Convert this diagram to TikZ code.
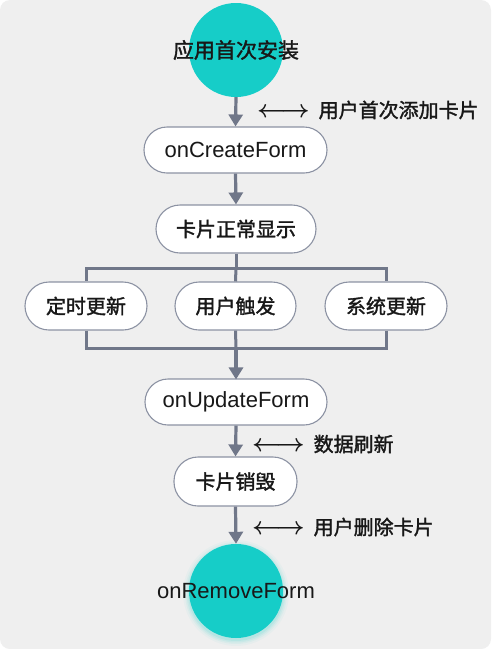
\documentclass[tikz,border=0pt]{standalone}
\usepackage{fontspec}
\setmainfont{Liberation Sans}
\newfontfamily\cjk{Noto Sans CJK SC}[FakeBold=1.6]
\usetikzlibrary{arrows.meta}
\definecolor{bgc}{RGB}{239,239,239}
\definecolor{teal1}{RGB}{22,205,200}
\definecolor{linec}{RGB}{112,119,137}
\definecolor{boxc}{RGB}{140,146,163}
\definecolor{txt}{RGB}{24,24,24}
\tikzset{
  pill/.style={draw=boxc, line width=1.1pt, fill=white, rounded corners=#1, inner sep=0pt, text=txt},
  pill/.default=23pt,
  dot/.style={circle, fill=teal1, minimum size=94pt, inner sep=0pt},
  flow/.style={draw=linec, line width=3.2pt, -{Triangle[width=14pt,length=12pt]}},
  link/.style={draw=linec, line width=3pt},
  cjt/.style={font=\cjk\fontsize{20}{20}\selectfont, text=txt},
  lat/.style={font=\fontsize{22}{22}\selectfont, text=txt},
  lab/.style={anchor=west, inner sep=0pt, font=\cjk\fontsize{20}{20}\selectfont, text=txt},
}
\newcommand{\lrarr}{{\fontsize{25}{25}\selectfont\boldmath$\longleftrightarrow$}\hspace{9pt}}
\begin{document}
\begin{tikzpicture}[x=1pt,y=-1pt]
\useasboundingbox (0,0) rectangle (491,649);
\fill[white] (0,0) rectangle (491,649);
\fill[bgc, rounded corners=10pt] (0,0) rectangle (491,649);

% circles
\node[dot] (install) at (236,50) {};
\node[cjt, font=\cjk\fontsize{21}{21}\selectfont] (installt) at (236,50) {应用首次安装};

\foreach \r/\o in {53/0.04,51/0.06,49.5/0.08,48/0.1}{
  \fill[teal1, opacity=\o] (236,593) circle (\r);
}
\node[dot] (remove) at (236,591) {};
\node[lat] (removet) at (236,591) {onRemoveForm};

% boxes
\node[pill, minimum width=183pt, minimum height=46pt, lat] (create) at (235.5,150) {onCreateForm};
\node[pill=24pt, minimum width=160pt, minimum height=48pt, cjt] (show) at (236,229) {卡片正常显示};
\node[pill=24pt, minimum width=122pt, minimum height=48pt, cjt] (b1) at (86,306) {定时更新};
\node[pill=24pt, minimum width=121pt, minimum height=48pt, cjt] (b2) at (235.5,306) {用户触发};
\node[pill=24pt, minimum width=122pt, minimum height=48pt, cjt] (b3) at (386,306) {系统更新};
\node[pill, minimum width=182pt, minimum height=46pt, lat] (update) at (236,402) {onUpdateForm};
\node[pill=24pt, minimum width=123pt, minimum height=49pt, cjt] (destroy) at (235.5,481.5) {卡片销毁};

% junction coordinates
\coordinate (sp) at (236,268);
\coordinate (spl) at (86,268);
\coordinate (spr) at (386,268);
\coordinate (jn) at (236,348);
\coordinate (jnl) at (86,348);
\coordinate (jnr) at (386,348);

% connectors
\draw[flow] (install.south) -- (create.north);
\draw[flow] (create.south) -- (show.north);
\draw[link] (show.south) -- (sp);
\draw[link, line cap=rect] (spl) -- (spr);
\draw[link] (spl) -- (b1.north);
\draw[link] (sp) -- (b2.north);
\draw[link] (spr) -- (b3.north);
\draw[link] (b1.south) -- (jnl);
\draw[link] (b2.south) -- (jn);
\draw[link] (b3.south) -- (jnr);
\draw[link, line cap=rect] (jnl) -- (jnr);
\draw[flow] (jn) -- ([yshift=-1pt]update.north);
\draw[flow] (update.south) -- (destroy.north);
\draw[flow] (destroy.south) -- (remove.north);

% labels
\node[lab] (l1) at (257,110) {\lrarr 用户首次添加卡片};
\node[lab] (l2) at (252,444) {\lrarr 数据刷新};
\node[lab] (l3) at (252,527) {\lrarr 用户删除卡片};
\end{tikzpicture}
\end{document}
